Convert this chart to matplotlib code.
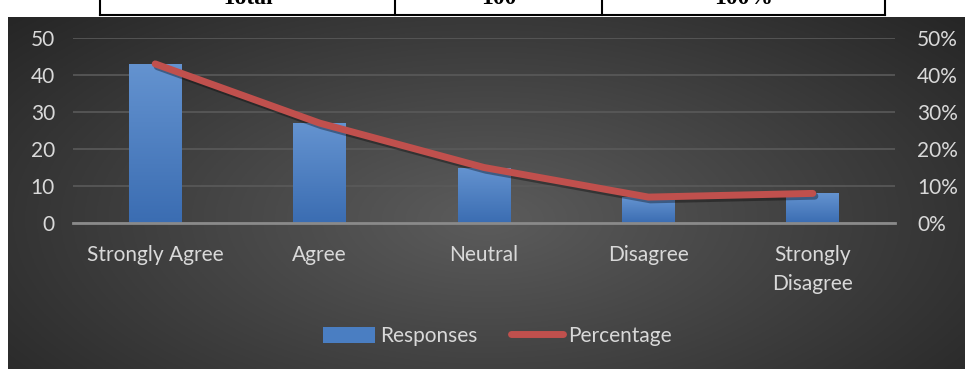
import numpy as np
import matplotlib.pyplot as plt
from matplotlib.lines import Line2D
from matplotlib.patches import Patch
from matplotlib.colors import LinearSegmentedColormap
import matplotlib.patheffects as pe

categories = ["Strongly Agree", "Agree", "Neutral", "Disagree", "Strongly\nDisagree"]
responses = [43, 27, 15, 7, 8]
percentage = [0.43, 0.27, 0.15, 0.07, 0.08]
table_row = ["Total", "100", "100%"]

W, H = 965, 369
fig = plt.figure(figsize=(W / 100, H / 100), dpi=100)
fig.patch.set_facecolor("white")

# dark radial background of the chart
bg = fig.add_axes([8 / W, 0, 1 - 8 / W, 1 - 17 / H])
bg.set_axis_off()
yy, xx = np.mgrid[-1:1:200j, -1:1:400j]
r = np.sqrt((xx * 0.9) ** 2 + ((yy - 0.15) * 0.7) ** 2)
shade = 0.36 - 0.21 * np.clip(r, 0, 1.2) / 1.2
bg.imshow(np.dstack([shade] * 3), aspect="auto", extent=[0, 1, 0, 1])

# cut-off table above the chart
tl = fig.add_axes([0, 0, 1, 1], facecolor="none")
tl.set_axis_off()
tl.set_xlim(0, W)
tl.set_ylim(H, 0)
for xv in [100, 395, 602, 885]:
    tl.plot([xv, xv], [0, 15], color="black", lw=1.5)
tl.plot([100, 885], [15, 15], color="black", lw=1.5)
for (x0, x1), t in zip([(100, 395), (395, 602), (602, 885)], table_row):
    tl.text((x0 + x1) / 2, -1, t, ha="center", va="center", fontsize=17,
            fontweight="bold", family="Liberation Serif", color="black")

fs = 15
ax = fig.add_axes([73 / W, 1 - 223 / H, (895 - 73) / W, 185 / H], facecolor="none")
x = np.arange(len(categories))
bars = ax.bar(x, responses, width=0.32, color="#4a7ec2", zorder=2)
grad = np.linspace(0, 1, 100).reshape(-1, 1)
cmap = LinearSegmentedColormap.from_list("b", ["#3b6db2", "#6493d0"])
for b in bars:
    im = ax.imshow(grad, cmap=cmap, aspect="auto", origin="lower", zorder=2,
                   extent=[b.get_x(), b.get_x() + b.get_width(), 0, b.get_height()])
    im.set_clip_path(b)
ax.set_xlim(-0.5, len(categories) - 0.5)
ax.set_ylim(0, 50)
ax.set_yticks(range(0, 51, 10))
ax.grid(axis="y", color="#5a5a5a", lw=1.2, zorder=0)
for s in ["top", "right", "left"]:
    ax.spines[s].set_visible(False)
ax.spines["bottom"].set_color("#8a8a8a")
ax.spines["bottom"].set_linewidth(2)
ax.tick_params(length=0, colors="#d9d9d9", labelsize=fs)
ax.tick_params(axis="y", pad=13)
ax.tick_params(axis="x", pad=16)
ax.set_xticks(x)
ax.set_xticklabels(categories, family="Lato", linespacing=1.55, va="top")
for lab in ax.get_yticklabels():
    lab.set_family("Lato")

ax2 = ax.twinx()
ax2.set_ylim(0, 0.5)
ax2.set_yticks(np.arange(0, 0.51, 0.1))
ax2.set_yticklabels([f"{int(round(v * 100))}%" for v in np.arange(0, 0.51, 0.1)],
                    family="Lato")
ax2.tick_params(length=0, colors="#d9d9d9", labelsize=fs, pad=16)
for s in ax2.spines.values():
    s.set_visible(False)
ax2.plot(x, percentage, color="#c0504d", lw=5, solid_capstyle="round",
         solid_joinstyle="round", zorder=3,
         path_effects=[pe.SimpleLineShadow(offset=(1.5, -2), alpha=0.35), pe.Normal()])

handles = [Patch(facecolor="#4a7ec2", label="Responses"),
           Line2D([], [], color="#c0504d", lw=5, solid_capstyle="round", label="Percentage")]
fig.legend(handles=handles, loc="center", bbox_to_anchor=(497 / W, 1 - 336 / H), ncol=2,
           frameon=False, handlelength=2.5, handleheight=0.8,
           handletextpad=0.25, columnspacing=1.6, labelcolor="#d9d9d9",
           prop={"family": "Lato", "size": fs})

fig.savefig("out.png", dpi=100)
